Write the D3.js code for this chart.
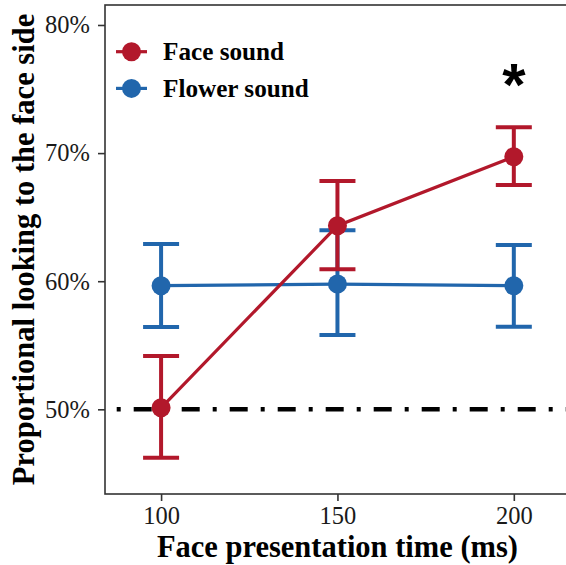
<!DOCTYPE html>
<html>
<head>
<meta charset="utf-8">
<script src="https://cdn.jsdelivr.net/npm/d3@7"></script>
<style>
  html, body { margin: 0; padding: 0; background: #fff; }
  svg { display: block; }
</style>
</head>
<body>
<svg id="chart" width="566" height="565"></svg>
<script>
// ---- data ----
const times = [100, 150, 200];
const seriesNames = ["Face sound", "Flower sound"];
const faceMean  = [50.12, 64.33, 69.72];
const faceUpper = [54.16, 67.82, 72.01];
const faceLower = [46.22, 60.93, 67.51];
const flowerMean  = [59.65, 59.78, 59.65];
const flowerUpper = [62.90, 63.97, 62.83];
const flowerLower = [56.42, 55.80, 56.45];
const yTicks = [50, 60, 70, 80];
const xTicks = [100, 150, 200];
const chanceLevel = 50;
const sigTime = 200;
const sigLabel = "*";
const xTitle = "Face presentation time (ms)";
const yTitle = "Proportional looking to the face side";

const colors = { "Face sound": "#B2182B", "Flower sound": "#2166AC" };

const series = [
  { name: "Flower sound", mean: flowerMean, upper: flowerUpper, lower: flowerLower },
  { name: "Face sound", mean: faceMean, upper: faceUpper, lower: faceLower }
];

// ---- layout ----
const svg = d3.select("#chart");
const panel = { left: 105, right: 569.9, top: 5, bottom: 494 };

const x = d3.scaleLinear().domain([84.1, 215.9]).range([panel.left, panel.right]);
const y = d3.scaleLinear().domain([43.39, 81.56]).range([panel.bottom, panel.top]);

const serif = "'Liberation Serif', 'Times New Roman', serif";

// panel border
svg.append("rect")
  .attr("x", panel.left).attr("y", panel.top)
  .attr("width", panel.right - panel.left).attr("height", panel.bottom - panel.top)
  .attr("fill", "none").attr("stroke", "#333").attr("stroke-width", 1.6);

// axes
const yAxis = d3.axisLeft(y).tickValues(yTicks).tickSize(7).tickPadding(8)
  .tickFormat(d => d + "%");
const gy = svg.append("g").attr("transform", `translate(${panel.left},0)`).call(yAxis);
gy.select(".domain").remove();
gy.selectAll(".tick line").attr("stroke", "#333").attr("stroke-width", 1.6);
gy.selectAll(".tick text").attr("fill", "#1a1a1a")
  .style("font-family", serif).style("font-size", "24.5px");

const xAxis = d3.axisBottom(x).tickValues(xTicks).tickSize(7).tickPadding(6);
const gx = svg.append("g").attr("transform", `translate(0,${panel.bottom})`).call(xAxis);
gx.select(".domain").remove();
gx.selectAll(".tick line").attr("stroke", "#333").attr("stroke-width", 1.6);
gx.selectAll(".tick text").attr("fill", "#1a1a1a")
  .style("font-family", serif).style("font-size", "24.5px");

// clip for plot content
svg.append("clipPath").attr("id", "clip")
  .append("rect").attr("x", panel.left).attr("y", panel.top)
  .attr("width", panel.right - panel.left).attr("height", panel.bottom - panel.top);
const plot = svg.append("g").attr("clip-path", "url(#clip)");

// chance line (dot-dash)
plot.append("line")
  .attr("x1", panel.left).attr("x2", panel.right)
  .attr("y1", y(chanceLevel)).attr("y2", y(chanceLevel))
  .attr("stroke", "#000").attr("stroke-width", 4.5)
  .attr("stroke-dasharray", "4,13,18,13")
  .attr("stroke-dashoffset", 36.3);

const capHalf = 18;
series.forEach(s => {
  const c = colors[s.name];
  const g = plot.append("g");
  const pts = times.map((t, i) => ({ t, m: s.mean[i], u: s.upper[i], l: s.lower[i] }));
  // error bars
  pts.forEach(p => {
    g.append("line").attr("x1", x(p.t)).attr("x2", x(p.t))
      .attr("y1", y(p.u)).attr("y2", y(p.l))
      .attr("stroke", c).attr("stroke-width", 4);
    [p.u, p.l].forEach(v => {
      g.append("line").attr("x1", x(p.t) - capHalf).attr("x2", x(p.t) + capHalf)
        .attr("y1", y(v)).attr("y2", y(v))
        .attr("stroke", c).attr("stroke-width", 4);
    });
  });
  // line
  g.append("path").datum(pts)
    .attr("d", d3.line().x(p => x(p.t)).y(p => y(p.m)))
    .attr("fill", "none").attr("stroke", c).attr("stroke-width", 3.2);
  // points
  g.selectAll("circle").data(pts).join("circle")
    .attr("cx", p => x(p.t)).attr("cy", p => y(p.m)).attr("r", 9.5)
    .attr("fill", c);
});

// significance marker
svg.append("text")
  .attr("x", x(sigTime)).attr("y", 105)
  .attr("text-anchor", "middle")
  .style("font-family", "'Liberation Sans', Arial, sans-serif")
  .style("font-size", "60px").style("font-weight", "bold")
  .attr("fill", "#000")
  .text(sigLabel);

// legend
const legendItems = ["Face sound", "Flower sound"];
const legend = svg.append("g");
legendItems.forEach((name, i) => {
  const cy = 51.7 + i * 36.7;
  const c = colors[name];
  legend.append("line").attr("x1", 116).attr("x2", 147).attr("y1", cy).attr("y2", cy)
    .attr("stroke", c).attr("stroke-width", 3.2);
  legend.append("circle").attr("cx", 131.5).attr("cy", cy).attr("r", 9.5).attr("fill", c);
  legend.append("text").attr("x", 163).attr("y", cy + 8.5)
    .style("font-family", serif).style("font-size", "25.2px").style("font-weight", "bold")
    .attr("fill", "#000").text(name);
});

// axis titles
svg.append("text")
  .attr("x", (panel.left + panel.right) / 2).attr("y", 557)
  .attr("text-anchor", "middle")
  .style("font-family", serif).style("font-size", "30.5px").style("font-weight", "bold")
  .attr("fill", "#000").text(xTitle);

svg.append("text")
  .attr("transform", `translate(34,${(panel.top + panel.bottom) / 2}) rotate(-90)`)
  .attr("text-anchor", "middle")
  .style("font-family", serif).style("font-size", "30.5px").style("font-weight", "bold")
  .attr("fill", "#000").text(yTitle);
</script>
</body>
</html>
